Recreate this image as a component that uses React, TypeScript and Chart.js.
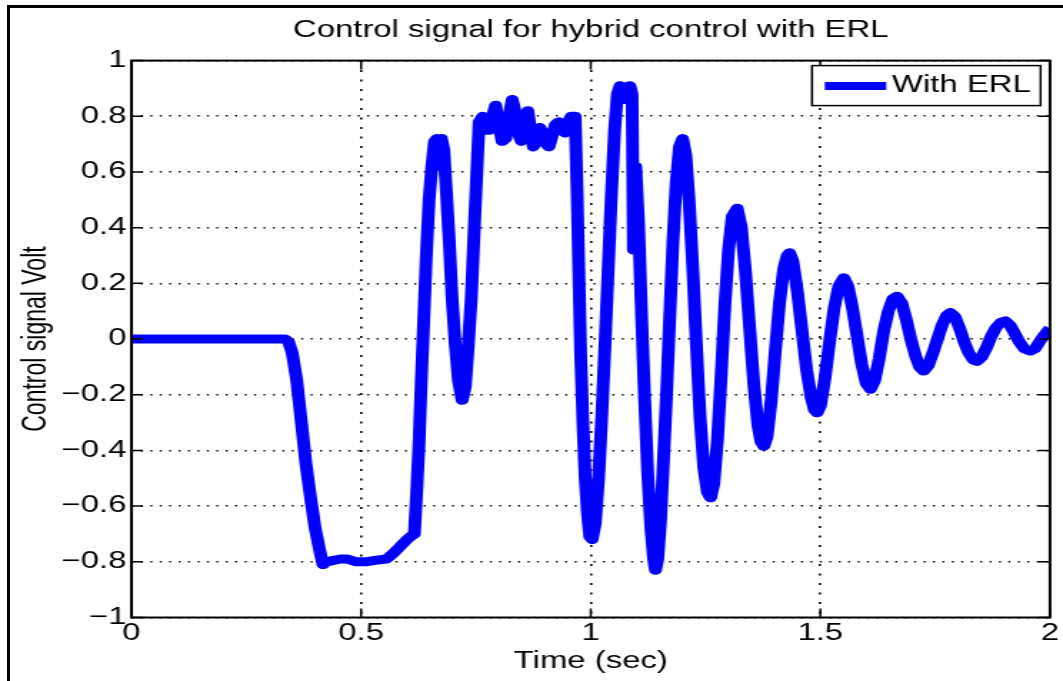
import React, { useEffect, useRef } from 'react';
import { Chart, registerables } from 'chart.js';

Chart.register(...registerables);

// ---- data ----
const timeSec = [
  0, 0.1, 0.2, 0.3, 0.335, 0.342, 0.35, 0.36, 0.37, 0.38, 0.39, 0.4, 0.41, 0.417,
  0.425, 0.44, 0.455, 0.47, 0.49, 0.51, 0.53, 0.555, 0.57, 0.585, 0.6, 0.607, 0.616,
  0.621, 0.626, 0.631, 0.636, 0.642, 0.648, 0.654, 0.66, 0.665, 0.67, 0.675, 0.68,
  0.686, 0.692, 0.698, 0.705, 0.712, 0.72, 0.727, 0.733, 0.74, 0.746, 0.752, 0.757,
  0.765, 0.772, 0.779, 0.786, 0.793, 0.8, 0.807, 0.815, 0.822, 0.829, 0.835, 0.842,
  0.849, 0.856, 0.863, 0.869, 0.875, 0.882, 0.889, 0.896, 0.903, 0.909, 0.916, 0.923,
  0.93, 0.937, 0.944, 0.951, 0.958, 0.966, 0.97, 0.974, 0.978, 0.983, 0.988, 0.993,
  0.998, 1.003, 1.01, 1.017, 1.024, 1.031, 1.038, 1.045, 1.052, 1.058, 1.064, 1.071,
  1.078, 1.085, 1.09, 1.093, 1.098, 1.104, 1.11, 1.117, 1.124, 1.131, 1.137, 1.141,
  1.146, 1.152, 1.158, 1.165, 1.172, 1.179, 1.186, 1.193, 1.2, 1.207, 1.214, 1.222,
  1.23, 1.238, 1.246, 1.254, 1.261, 1.268, 1.276, 1.284, 1.292, 1.3, 1.308, 1.319,
  1.328, 1.337, 1.346, 1.355, 1.364, 1.371, 1.377, 1.384, 1.393, 1.402, 1.411, 1.42,
  1.428, 1.433, 1.44, 1.45, 1.46, 1.47, 1.48, 1.487, 1.493, 1.5, 1.51, 1.52, 1.53,
  1.54, 1.551, 1.56, 1.57, 1.58, 1.59, 1.6, 1.609, 1.618, 1.628, 1.638, 1.648, 1.658,
  1.667, 1.677, 1.687, 1.697, 1.707, 1.716, 1.725, 1.735, 1.745, 1.755, 1.765, 1.775,
  1.783, 1.793, 1.803, 1.813, 1.823, 1.833, 1.841, 1.851, 1.862, 1.872, 1.882, 1.893,
  1.903, 1.913, 1.923, 1.933, 1.944, 1.957, 1.967, 1.977, 1.988, 2.0,
];

const controlVolt = [
  0, 0, 0, 0, 0, -0.01, -0.05, -0.15, -0.3, -0.45, -0.57, -0.68, -0.76, -0.81,
  -0.8, -0.795, -0.79, -0.79, -0.8, -0.8, -0.795, -0.79, -0.77, -0.745, -0.72, -0.71, -0.7,
  -0.55, -0.38, -0.15, 0.05, 0.3, 0.5, 0.62, 0.71, 0.72, 0.62, 0.72, 0.68,
  0.52, 0.35, 0.15, -0.02, -0.15, -0.22, -0.17, -0.03, 0.15, 0.38, 0.6, 0.78,
  0.8, 0.75, 0.75, 0.8, 0.84, 0.77, 0.71, 0.72, 0.8, 0.86, 0.82, 0.74,
  0.71, 0.77, 0.82, 0.75, 0.69, 0.72, 0.76, 0.74, 0.7, 0.69, 0.73, 0.77,
  0.78, 0.75, 0.74, 0.78, 0.8, 0.8, 0.55, 0.25, -0.05, -0.3, -0.5, -0.63,
  -0.71, -0.72, -0.66, -0.5, -0.28, -0.02, 0.25, 0.52, 0.75, 0.88, 0.91, 0.86,
  0.9, 0.91, 0.88, 0.32, 0.62, 0.42, 0.12, -0.2, -0.48, -0.68, -0.79, -0.83,
  -0.79, -0.65, -0.45, -0.2, 0.08, 0.35, 0.56, 0.69, 0.72, 0.66, 0.5, 0.26,
  -0.02, -0.28, -0.46, -0.55, -0.57, -0.52, -0.36, -0.13, 0.12, 0.32, 0.44, 0.47,
  0.4, 0.24, 0.04, -0.16, -0.31, -0.37, -0.385, -0.35, -0.22, -0.04, 0.13, 0.25,
  0.3, 0.31, 0.28, 0.17, 0.03, -0.11, -0.21, -0.255, -0.265, -0.24, -0.14, -0.01, 0.11,
  0.19, 0.22, 0.19, 0.11, 0.01, -0.09, -0.16, -0.18, -0.15, -0.07, 0.03, 0.1, 0.145,
  0.154, 0.13, 0.07, 0.0, -0.06, -0.1, -0.115, -0.095, -0.05, 0.0, 0.05, 0.085,
  0.095, 0.08, 0.04, -0.01, -0.05, -0.075, -0.08, -0.065, -0.03, 0.01, 0.04, 0.06,
  0.065, 0.05, 0.02, -0.01, -0.035, -0.043, -0.035, -0.01, 0.015, 0.04,
];

const xTickValues = [0, 0.5, 1, 1.5, 2];
const yTickValues = [-1, -0.8, -0.6, -0.4, -0.2, 0, 0.2, 0.4, 0.6, 0.8, 1];

const seriesLabel = 'With ERL';
const chartTitle = 'Control signal for hybrid control with ERL';
const xAxisTitle = 'Time (sec)';
const yAxisTitle = 'Control signal Volt';

// ---- presentation ----
const INNER_W = 744;
const STRETCH = 1063 / INNER_W;
const FONT = "'Liberation Sans', Arial, Helvetica, sans-serif";
const LINE_BLUE = '#0000ff';

function fmt(v: number): string {
  const r = Math.round(v * 10) / 10;
  const s = String(Math.abs(r));
  return r < 0 ? '\u2212' + s : s;
}

const framePlugin = {
  id: 'matlabFrame',
  afterDraw(chart: any) {
    const { ctx, chartArea } = chart;
    const { left, right, top, bottom } = chartArea;
    const xs = chart.scales.x;
    const ys = chart.scales.y;
    ctx.save();
    ctx.setLineDash([]);
    ctx.strokeStyle = '#000';
    ctx.lineWidth = 1.5;
    ctx.beginPath();
    for (const v of yTickValues) {
      const p = ys.getPixelForValue(v);
      ctx.moveTo(left, p);
      ctx.lineTo(left + 8, p);
      ctx.moveTo(right, p);
      ctx.lineTo(right - 8, p);
    }
    for (const v of xTickValues) {
      const p = xs.getPixelForValue(v);
      ctx.moveTo(p, bottom);
      ctx.lineTo(p, bottom - 9);
      ctx.moveTo(p, top);
      ctx.lineTo(p, top + 9);
    }
    ctx.stroke();
    ctx.lineWidth = 2;
    ctx.strokeRect(left, top, right - left, bottom - top);

    // legend box (inside the plot, top right)
    const ds = chart.data.datasets[0];
    const boxW = 160;
    const boxH = 40;
    const bx = right - 6.6 - boxW;
    const by = top + 5;
    ctx.fillStyle = '#fff';
    ctx.fillRect(bx, by, boxW, boxH);
    ctx.lineWidth = 1.5;
    ctx.strokeStyle = '#000';
    ctx.strokeRect(bx, by, boxW, boxH);
    const cy = by + boxH / 2 + 0.5;
    ctx.strokeStyle = ds.borderColor;
    ctx.lineWidth = 8;
    ctx.beginPath();
    ctx.moveTo(bx + 9, cy);
    ctx.lineTo(bx + 52, cy);
    ctx.stroke();
    ctx.fillStyle = '#000';
    ctx.font = `23px ${FONT}`;
    ctx.textAlign = 'left';
    ctx.textBaseline = 'middle';
    ctx.fillText(ds.label, bx + 56, cy);
    ctx.restore();
  },
};

export default function App() {
  const canvasRef = useRef<HTMLCanvasElement | null>(null);

  useEffect(() => {
    const canvas = canvasRef.current;
    if (!canvas) return;
    const font = { family: FONT, size: 23, weight: 'normal' as const };
    const chart = new Chart(canvas, {
      type: 'line',
      data: {
        datasets: [
          {
            label: seriesLabel,
            data: timeSec.map((t, i) => ({ x: t, y: controlVolt[i] })),
            borderColor: LINE_BLUE,
            backgroundColor: LINE_BLUE,
            borderWidth: 9,
            pointRadius: 0,
            tension: 0,
            fill: false,
            borderJoinStyle: 'round',
            borderCapStyle: 'butt',
          },
        ],
      },
      options: {
        animation: false,
        responsive: true,
        maintainAspectRatio: false,
        layout: { padding: { left: 0, right: 8, top: 0, bottom: 0 } },
        plugins: {
          legend: { display: false },
          tooltip: { enabled: false },
          title: {
            display: true,
            text: chartTitle,
            color: '#000',
            font,
            fullSize: false,
            padding: { top: 17, bottom: 16 },
          },
        },
        scales: {
          x: {
            type: 'linear',
            min: 0,
            max: 2,
            z: 1,
            afterBuildTicks: (axis: any) => {
              axis.ticks = xTickValues.map((value) => ({ value }));
            },
            afterFit: (scale: any) => {
              scale.height = 63.5;
            },
            ticks: {
              autoSkip: false,
              maxRotation: 0,
              color: '#000',
              font,
              padding: 2.7,
              callback: (v: any) => fmt(Number(v)),
            },
            grid: { color: '#000', lineWidth: 1.6, drawTicks: false },
            border: { display: false, dash: [2, 7.5] },
            title: {
              display: true,
              text: xAxisTitle,
              color: '#000',
              font,
              padding: { top: 0, bottom: 6 },
            },
          },
          y: {
            type: 'linear',
            min: -1,
            max: 1,
            z: 1,
            afterBuildTicks: (axis: any) => {
              axis.ticks = yTickValues.map((value) => ({ value }));
            },
            afterFit: (scale: any) => {
              scale.width = 92;
            },
            ticks: {
              autoSkip: false,
              color: '#000',
              font,
              padding: 3.5,
              callback: (v: any) => fmt(Number(v)),
            },
            grid: { color: '#000', lineWidth: 1.6, drawTicks: false },
            border: { display: false, dash: [1.4, 5.2] },
            title: {
              display: true,
              text: yAxisTitle,
              color: '#000',
              font,
              padding: { top: 12, bottom: 0 },
            },
          },
        },
      },
      plugins: [framePlugin],
    } as any);
    return () => chart.destroy();
  }, []);

  return (
    <div
      style={{
        position: 'fixed',
        left: 0,
        top: 0,
        width: 1063,
        height: 681,
        background: '#fff',
        overflow: 'hidden',
      }}
    >
      <div
        style={{
          position: 'absolute',
          left: 0,
          top: 0,
          width: INNER_W,
          height: 681,
          transform: `scaleX(${STRETCH})`,
          transformOrigin: '0 0',
        }}
      >
        <canvas ref={canvasRef} />
      </div>
      <div style={{ position: 'absolute', left: 7, top: 5, right: 0, height: 3, background: '#000' }} />
      <div style={{ position: 'absolute', left: 7, top: 5, width: 3, bottom: 0, background: '#000' }} />
    </div>
  );
}
